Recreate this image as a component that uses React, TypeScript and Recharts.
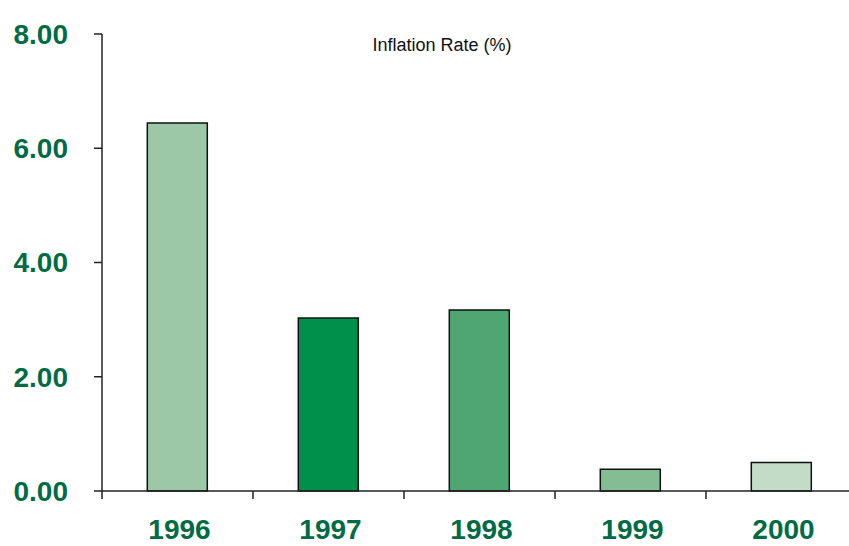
import { Bar, BarChart, XAxis, YAxis, Cell } from 'recharts'

const years = ['1996', '1997', '1998', '1999', '2000']
const inflation = [6.44, 3.03, 3.17, 0.38, 0.5]
const barColors = ['#9dc8a8', '#00904c', '#50a673', '#84bc93', '#c2dcc8']
const yTicks = [0, 2, 4, 6, 8]

const CHART_W = 870
const CHART_H = 546
const Y_AXIS_W = 102
const MARGIN_RIGHT = 13
const TEXT_GREEN = '#006b45'
const FONT = '"Liberation Sans", Arial, sans-serif'

const data = years.map((year, i) => ({ year, rate: inflation[i], color: barColors[i] }))
const bandWidth = (CHART_W - Y_AXIS_W - MARGIN_RIGHT) / years.length

function YearTick(props: any) {
    const { x, y, payload, index } = props
    const left = x - bandWidth / 2
    return (
        <g>
            <line x1={left} x2={left} y1={y} y2={y + 8} stroke="#222" strokeWidth={1.5} />
            {index === years.length - 1 && (
                <line x1={left + bandWidth} x2={left + bandWidth} y1={y} y2={y + 8} stroke="#222" strokeWidth={1.5} />
            )}
            <text
                x={x + 2}
                y={y + 48}
                textAnchor="middle"
                fill={TEXT_GREEN}
                fontSize={28}
                fontWeight="bold"
                fontFamily={FONT}
            >
                {payload.value}
            </text>
        </g>
    )
}

export default function App() {
    return (
        <div style={{ position: 'absolute', left: 0, top: 0, width: 849, height: 546, overflow: 'hidden', background: '#fff' }}>
            <div
                style={{
                    position: 'absolute',
                    left: 0,
                    width: 884,
                    top: 35,
                    textAlign: 'center',
                    fontFamily: FONT,
                    fontSize: 18,
                    color: '#111',
                }}
            >
                Inflation Rate (%)
            </div>
            <BarChart
                width={CHART_W}
                height={CHART_H}
                data={data}
                margin={{ top: 34, right: MARGIN_RIGHT, bottom: 0, left: 0 }}
                barCategoryGap="30%"
            >
                <XAxis
                    dataKey="year"
                    height={55}
                    tickSize={0}
                    tickMargin={0}
                    tickLine={false}
                    axisLine={{ stroke: '#222', strokeWidth: 1.5 }}
                    tick={<YearTick />}
                    interval={0}
                />
                <YAxis
                    width={Y_AXIS_W}
                    domain={[0, 8]}
                    ticks={yTicks}
                    tickFormatter={(v: number) => v.toFixed(2)}
                    tickSize={8}
                    tickMargin={26}
                    axisLine={{ stroke: '#222', strokeWidth: 1.5 }}
                    tickLine={{ stroke: '#222', strokeWidth: 1.5 }}
                    tick={{ fill: TEXT_GREEN, fontSize: 28, fontWeight: 'bold', fontFamily: FONT }}
                />
                <Bar dataKey="rate" stroke="#111" strokeWidth={1.5} isAnimationActive={false}>
                    {data.map((entry, index) => (
                        <Cell key={`cell-${index}`} fill={entry.color} />
                    ))}
                </Bar>
            </BarChart>
        </div>
    )
}
